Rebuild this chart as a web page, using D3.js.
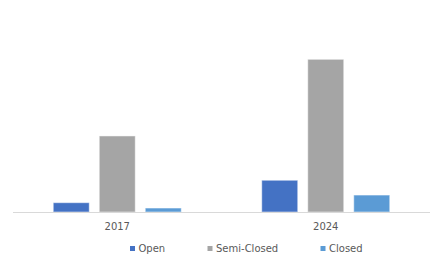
<!DOCTYPE html>
<html>
<head>
<meta charset="utf-8">
<script src="https://cdn.jsdelivr.net/npm/d3@7"></script>
<style>
  html, body { margin: 0; padding: 0; background: #fff; }
  svg { display: block; }
  text { font-family: "DejaVu Sans", Verdana, sans-serif; fill: #595959; }
</style>
</head>
<body>
<div id="chart"></div>
<script>
const categories = ["2017", "2024"];
const seriesNames = ["Open", "Semi-Closed", "Closed"];
const openValues = [0.61, 2.08];
const semiClosedValues = [4.98, 10.0];
const closedValues = [0.26, 1.11];
const seriesColors = ["#4472C4", "#A5A5A5", "#5B9BD5"];

const seriesValues = [openValues, semiClosedValues, closedValues];

const W = 444, H = 266;
const svg = d3.select("#chart").append("svg").attr("width", W).attr("height", H);

const baseY = 212;
const x0 = d3.scaleBand().domain(categories).range([13, 430])
  .paddingInner(0.386).paddingOuter(0.193);
const x1 = d3.scaleBand().domain(seriesNames).range([0, x0.bandwidth()])
  .paddingInner(10 / 46);
const y = d3.scaleLinear().domain([0, 12]).range([baseY, baseY - 12 * 15.27]);

const data = [];
categories.forEach((c, i) => {
  seriesNames.forEach((s, j) => {
    data.push({ cat: c, series: s, value: seriesValues[j][i], color: seriesColors[j] });
  });
});

svg.append("g").selectAll("rect").data(data).join("rect")
  .attr("x", d => x0(d.cat) + x1(d.series))
  .attr("y", d => y(d.value))
  .attr("width", x1.bandwidth())
  .attr("height", d => baseY - y(d.value))
  .attr("fill", d => d.color)
  .attr("stroke", "#ffffff")
  .attr("stroke-opacity", 0.5)
  .attr("stroke-width", 1);

// axis
const xAxis = d3.axisBottom(x0).tickSize(0).tickPadding(0);
const gx = svg.append("g").attr("transform", `translate(0,${baseY})`).call(xAxis);
gx.select(".domain").attr("stroke", "#D9D9D9").attr("d", "M13,0.5H430");
gx.selectAll(".tick text")
  .attr("y", 18)
  .attr("dy", 0)
  .style("font-family", "'DejaVu Sans', Verdana, sans-serif")
  .style("font-size", "10px")
  .attr("fill", "#595959");

// legend
const legendX = [130, 207.5, 320.5];
const legend = svg.append("g").selectAll("g").data(seriesNames).join("g")
  .attr("transform", (d, i) => `translate(${legendX[i]},246)`);
legend.append("rect").attr("width", 5).attr("height", 5)
  .attr("fill", (d, i) => seriesColors[i]);
legend.append("text").attr("x", 8.5).attr("y", 6)
  .style("font-size", "10px")
  .text(d => d);
</script>
</body>
</html>
